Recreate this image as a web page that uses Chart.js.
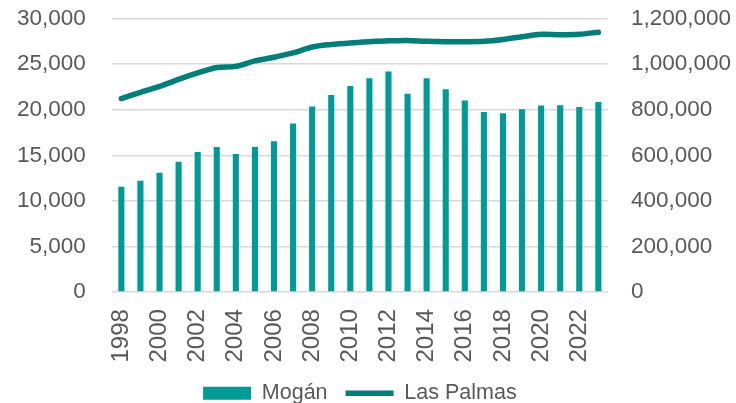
<!DOCTYPE html>
<html lang="es">
<head>
  <meta charset="UTF-8">
  <title>Mogán y Las Palmas</title>
  <script src="https://cdn.jsdelivr.net/npm/chart.js"></script>
  <style>
    html, body { margin: 0; padding: 0; background: #fff; }
    #wrap { width: 736px; height: 403px; }
  </style>
</head>
<body>
  <div id="wrap"><canvas id="chart"></canvas></div>
  <script>
    const years = ['1998','1999','2000','2001','2002','2003','2004','2005','2006','2007','2008','2009','2010',
                   '2011','2012','2013','2014','2015','2016','2017','2018','2019','2020','2021','2022','2023'];
    const mogan = [11550, 12200, 13100, 14300, 15350, 15900, 15150, 15900, 16550, 18500, 20350, 21600, 22600,
                   23450, 24200, 21750, 23450, 22250, 21000, 19750, 19600, 20050, 20450, 20500, 20300, 20850];
    const lasPalmas = [849000, 876000, 902000, 933000, 961000, 985000, 990000, 1014000, 1030000, 1049000, 1075000, 1086000, 1093000,
                       1098000, 1102000, 1104000, 1100000, 1098000, 1098000, 1100000, 1108000, 1120000, 1131000, 1129000, 1131000, 1140000];

    const fmt = v => v.toLocaleString('en-US');
    const tickFont = { family: 'Liberation Sans', size: 22.5 };
    const hidden = 'rgba(0,0,0,0)';

    // centre the legend under the plot area and lift it a little, like the original
    const legendShift = {
      id: 'legendShift',
      afterLayout(chart) {
        const a = chart.chartArea;
        const lg = chart.legend;
        const dx = (a.left + a.right) / 2 - (lg.left + lg.right) / 2;
        lg.left += dx;
        lg.right += dx;
        lg.top -= 7;
        lg.bottom -= 7;
      }
    };

    new Chart(document.getElementById('chart'), {
      type: 'bar',
      data: {
        labels: years,
        datasets: [
          {
            label: 'Mogán',
            data: mogan,
            backgroundColor: '#009A97',
            yAxisID: 'y',
            barPercentage: 0.32,
            categoryPercentage: 1,
            pointStyle: 'rect',
            order: 2
          },
          {
            label: 'Las Palmas',
            type: 'line',
            data: lasPalmas,
            borderColor: '#007E7A',
            backgroundColor: '#007E7A',
            borderWidth: 5.5,
            borderCapStyle: 'round',
            pointRadius: 0,
            pointStyle: 'line',
            tension: 0.3,
            yAxisID: 'y1',
            order: 1
          }
        ]
      },
      options: {
        responsive: true,
        maintainAspectRatio: false,
        animation: false,
        layout: { padding: { left: 12, right: 0, top: 0, bottom: -18 } },
        plugins: {
          legend: {
            position: 'bottom',
            labels: {
              usePointStyle: true,
              pointStyleWidth: 48,
              boxHeight: 13,
              padding: 18,
              color: '#595959',
              font: { family: 'Liberation Sans', size: 21.5 },
              sort: (a, b) => a.datasetIndex - b.datasetIndex
            }
          },
          tooltip: { enabled: false }
        },
        scales: {
          x: {
            grid: { display: false },
            border: { display: false },
            ticks: {
              autoSkip: false,
              minRotation: 90,
              maxRotation: 90,
              padding: 9,
              color: '#595959',
              font: { family: 'Liberation Sans', size: 24 },
              callback: (v, i) => i % 2 === 0 ? years[i] : ''
            }
          },
          y: {
            position: 'left',
            min: 0,
            max: 30000,
            ticks: { stepSize: 5000, color: '#595959', font: tickFont, padding: 5, callback: fmt },
            grid: { color: '#d9d9d9', lineWidth: 1.5, drawTicks: true, tickLength: 21, tickColor: hidden },
            border: { display: false }
          },
          y1: {
            position: 'right',
            min: 0,
            max: 1200000,
            ticks: { stepSize: 200000, color: '#595959', font: tickFont, padding: 5, callback: fmt },
            grid: { drawOnChartArea: false, drawTicks: true, tickLength: 18, tickColor: hidden },
            border: { display: false }
          }
        }
      },
      plugins: [legendShift]
    });
  </script>
</body>
</html>
